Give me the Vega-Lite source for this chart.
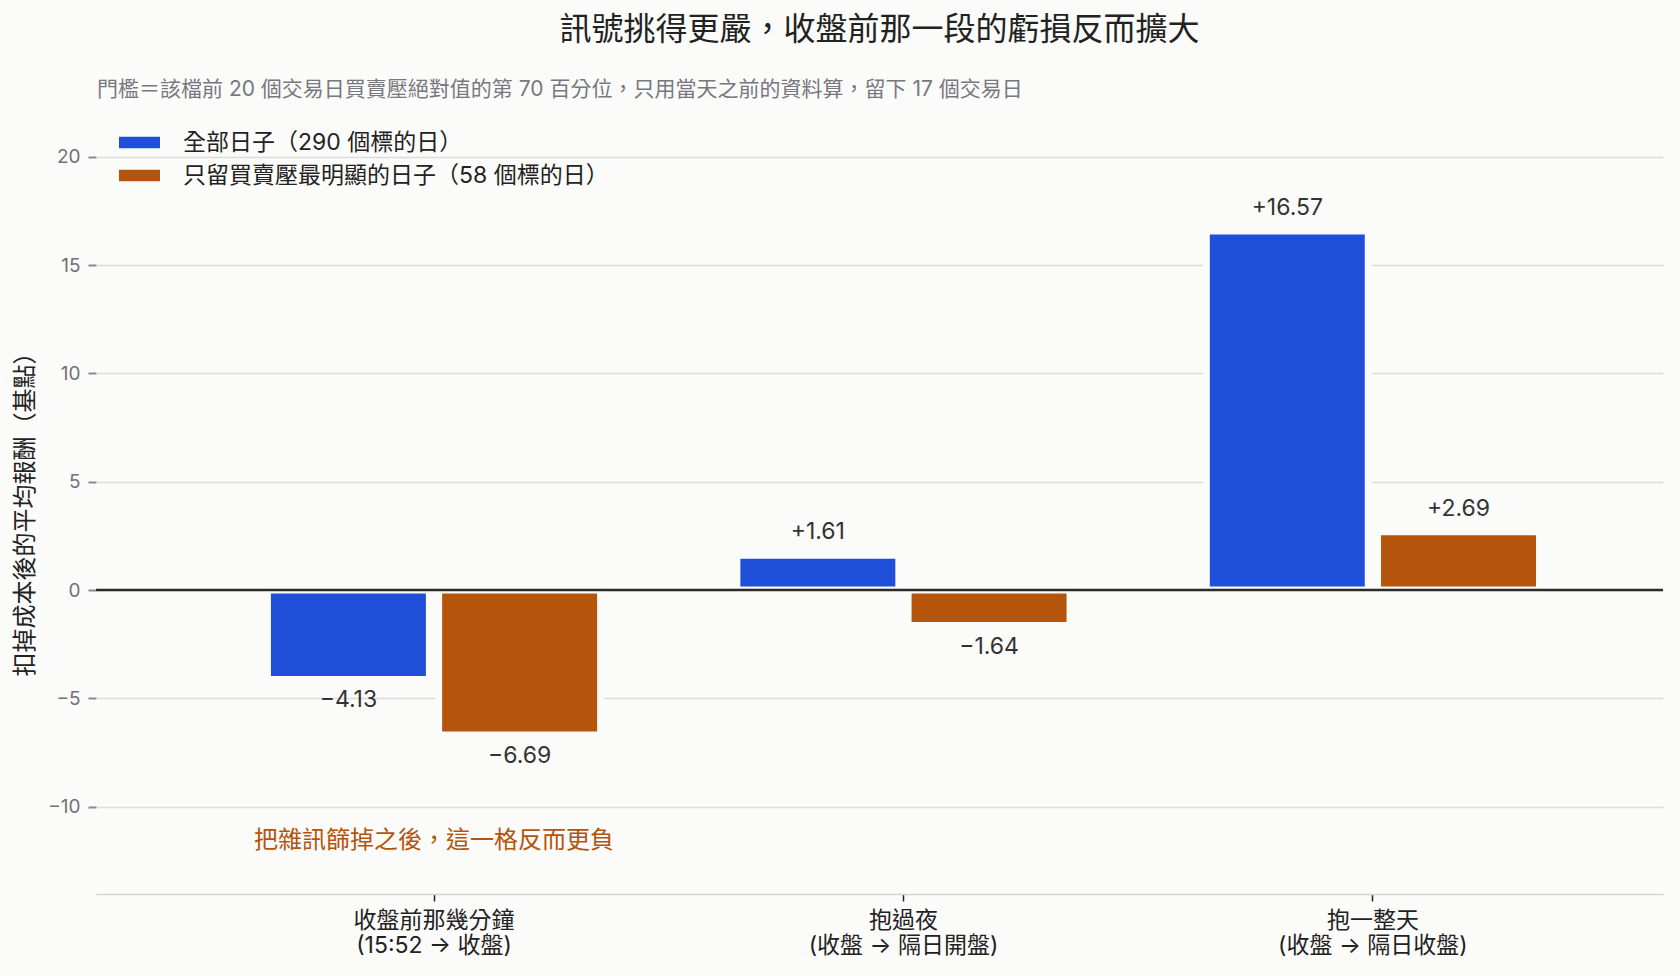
{
  "$schema": "https://vega.github.io/schema/vega-lite/v6.json",
  "autosize": "none",
  "width": 1567,
  "height": 772,
  "padding": {"left": 96, "top": 122, "right": 17, "bottom": 82},
  "background": "#fbfbf9",
  "title": {
    "text": "訊號挑得更嚴，收盤前那一段的虧損反而擴大",
    "fontSize": 32,
    "fontWeight": "normal",
    "color": "#222222",
    "anchor": "middle",
    "frame": "group",
    "offset": 32
  },
  "config": {
    "font": "Inter, Noto Sans CJK TC, sans-serif",
    "view": {"stroke": null}
  },
  "datasets": {
    "bars": [
      {"cat": "收盤前那幾分鐘\n(15:52 → 收盤)", "group": "全部日子（290 個標的日）", "value": -4.13},
      {"cat": "收盤前那幾分鐘\n(15:52 → 收盤)", "group": "只留買賣壓最明顯的日子（58 個標的日）", "value": -6.69},
      {"cat": "抱過夜\n(收盤 → 隔日開盤)", "group": "全部日子（290 個標的日）", "value": 1.61},
      {"cat": "抱過夜\n(收盤 → 隔日開盤)", "group": "只留買賣壓最明顯的日子（58 個標的日）", "value": -1.64},
      {"cat": "抱一整天\n(收盤 → 隔日收盤)", "group": "全部日子（290 個標的日）", "value": 16.57},
      {"cat": "抱一整天\n(收盤 → 隔日收盤)", "group": "只留買賣壓最明顯的日子（58 個標的日）", "value": 2.69}
    ],
    "notes": [
      {"cat": "收盤前那幾分鐘\n(15:52 → 收盤)", "value": -11.6, "note": "把雜訊篩掉之後，這一格反而更負"}
    ],
    "baseline": [
      {"value": 0}
    ]
  },
  "encoding": {
    "y": {
      "type": "quantitative",
      "scale": {"domain": [-14.03, 21.6], "nice": false, "zero": false},
      "axis": {
        "title": "扣掉成本後的平均報酬（基點）",
        "titleFontSize": 24,
        "titleFontWeight": "normal",
        "titleColor": "#222222",
        "titlePadding": 10,
        "values": [-10, -5, 0, 5, 10, 15, 20],
        "labelFontSize": 19,
        "labelColor": "#707078",
        "labelPadding": 8,
        "tickSize": 8,
        "tickWidth": 2,
        "tickColor": "#8a8a90",
        "domain": false,
        "grid": true,
        "gridColor": "#dcdcdc",
        "gridWidth": 1.5
      }
    }
  },
  "layer": [
    {
      "data": {"name": "bars"},
      "mark": {"type": "bar", "stroke": "#fbfbf9", "strokeWidth": 7},
      "encoding": {
        "x": {
          "field": "cat",
          "type": "nominal",
          "sort": null,
          "scale": {"paddingInner": 0, "paddingOuter": 0.169, "align": 0.651},
          "axis": {
            "title": null,
            "labelAngle": 0,
            "labelExpr": "split(datum.label, '\\n')",
            "labelFontSize": 23,
            "labelColor": "#222222",
            "labelLineHeight": 25,
            "labelLimit": 600,
            "labelPadding": 8,
            "labelBaseline": "top",
            "tickSize": 7,
            "tickWidth": 1.5,
            "tickColor": "#222222",
            "domainColor": "#d4d4d4",
            "domainWidth": 1.5,
            "grid": false
          }
        },
        "xOffset": {
          "field": "group",
          "sort": ["全部日子（290 個標的日）", "只留買賣壓最明顯的日子（58 個標的日）"],
          "scale": {"paddingInner": 0.054, "paddingOuter": 0.398}
        },
        "y": {"field": "value"},
        "fill": {
          "field": "group",
          "type": "nominal",
          "scale": {
            "domain": ["全部日子（290 個標的日）", "只留買賣壓最明顯的日子（58 個標的日）"],
            "range": ["#1f4fd8", "#b5540b"]
          },
          "legend": {
            "title": "門檻＝該檔前 20 個交易日買賣壓絕對值的第 70 百分位，只用當天之前的資料算，留下 17 個交易日",
            "orient": "none",
            "legendX": 1,
            "legendY": -43,
            "titleFontSize": 21,
            "titleFontWeight": "normal",
            "titleColor": "#77777f",
            "titleLimit": 1500,
            "titlePadding": 22,
            "labelFontSize": 23,
            "labelColor": "#222222",
            "labelLimit": 1000,
            "labelOffset": 23,
            "rowPadding": -6,
            "symbolType": "M-1,-0.285L1,-0.285L1,0.285L-1,0.285Z",
            "symbolSize": 1681,
            "symbolStrokeWidth": 0,
            "symbolOffset": 22,
            "symbolOpacity": 1
          }
        }
      }
    },
    {
      "data": {"name": "bars"},
      "transform": [{"filter": "datum.value >= 0"}],
      "mark": {"type": "text", "fontSize": 23, "color": "#333333", "baseline": "middle", "dy": -23},
      "encoding": {
        "x": {"field": "cat", "type": "nominal", "sort": null},
        "xOffset": {"field": "group", "sort": ["全部日子（290 個標的日）", "只留買賣壓最明顯的日子（58 個標的日）"]},
        "y": {"field": "value"},
        "text": {"field": "value", "type": "quantitative", "format": "+.2f"}
      }
    },
    {
      "data": {"name": "bars"},
      "transform": [{"filter": "datum.value < 0"}],
      "mark": {"type": "text", "fontSize": 23, "color": "#333333", "baseline": "middle", "dy": 21},
      "encoding": {
        "x": {"field": "cat", "type": "nominal", "sort": null},
        "xOffset": {"field": "group", "sort": ["全部日子（290 個標的日）", "只留買賣壓最明顯的日子（58 個標的日）"]},
        "y": {"field": "value"},
        "text": {"field": "value", "type": "quantitative", "format": "+.2f"}
      }
    },
    {
      "data": {"name": "notes"},
      "mark": {"type": "text", "fontSize": 24, "color": "#b5540b", "baseline": "middle"},
      "encoding": {
        "x": {"field": "cat", "type": "nominal", "sort": null},
        "y": {"field": "value"},
        "text": {"field": "note"}
      }
    },
    {
      "data": {"name": "baseline"},
      "mark": {"type": "rule", "color": "#2a2a2a", "strokeWidth": 2.5},
      "encoding": {"y": {"field": "value"}}
    }
  ]
}
